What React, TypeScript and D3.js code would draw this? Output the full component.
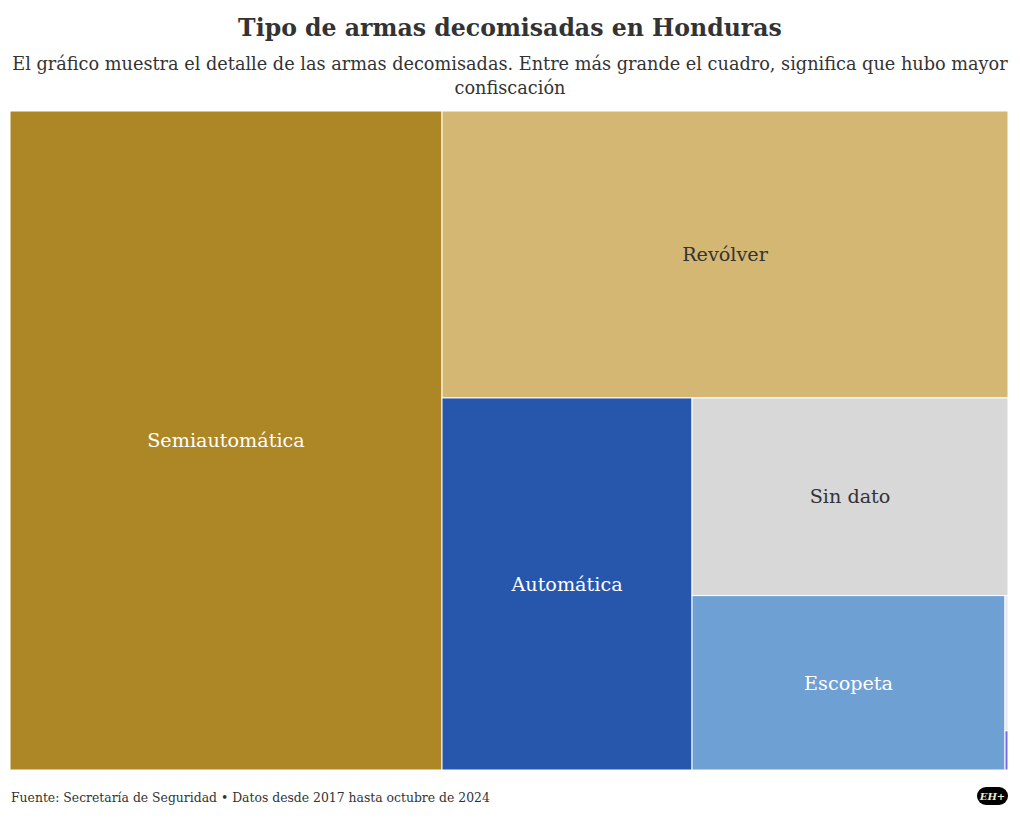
import React from "react";
import * as d3 from "d3";

const categories = ["Semiautomática", "Revólver", "Automática", "Sin dato", "Escopeta", "Otra", "Artesanal"];
const values = [43300, 24700, 14150, 9500, 8300, 62, 18];
const colors = ["#ad8626", "#d4b772", "#2756ad", "#d9d8d9", "#6ea0d4", "#e6e6ee", "#7b6ae6"];
const labelColors = ["#ffffff", "#333333", "#ffffff", "#333333", "#ffffff", "#333333", "#ffffff"];
const showLabel = [true, true, true, true, true, false, false];

const W = 1020;
const H = 821;
const FONT = "'DejaVu Serif', serif";

// Each child takes a full strip along the shorter side of the remaining rectangle
function stripTile(parent: any, x0: number, y0: number, x1: number, y1: number) {
  const nodes = parent.children || [];
  let remaining = parent.value || 0;
  for (const n of nodes) {
    const w = x1 - x0;
    const h = y1 - y0;
    const k = remaining > 0 ? (n.value || 0) / remaining : 0;
    if (w >= h) {
      const nx = x0 + w * k;
      n.x0 = x0; n.x1 = nx; n.y0 = y0; n.y1 = y1;
      x0 = nx;
    } else {
      const ny = y0 + h * k;
      n.x0 = x0; n.x1 = x1; n.y0 = y0; n.y1 = ny;
      y0 = ny;
    }
    remaining -= n.value || 0;
  }
}

export default function App() {
  const data = categories.map((name, i) => ({ name, value: values[i], i }));
  const root = d3
    .hierarchy<any>({ children: data })
    .sum((d: any) => d.value ?? 0)
    .sort((a: any, b: any) => (b.value ?? 0) - (a.value ?? 0));
  d3.treemap<any>().tile(stripTile as any).size([998, 659]).round(false)(root);
  const leaves = root.leaves() as any[];

  return (
    <svg width={W} height={H} style={{ position: "absolute", left: 0, top: 0, background: "#fff" }}>
      <text x={510} y={36} textAnchor="middle" fontFamily={FONT} fontWeight="bold" fontSize={23.6} fill="#333">
        Tipo de armas decomisadas en Honduras
      </text>
      <text x={510} y={70} textAnchor="middle" fontFamily={FONT} fontSize={17.7} fill="#333">
        El gráfico muestra el detalle de las armas decomisadas. Entre más grande el cuadro, significa que hubo mayor
      </text>
      <text x={510} y={94} textAnchor="middle" fontFamily={FONT} fontSize={17.7} fill="#333">
        confiscación
      </text>
      <g transform="translate(10,111)">
        {leaves.map((l) => {
          const d = l.data;
          return (
            <g key={d.name}>
              <rect
                x={l.x0}
                y={l.y0}
                width={l.x1 - l.x0}
                height={l.y1 - l.y0}
                fill={colors[d.i]}
                stroke="#ffffff"
                strokeWidth={1}
              />
              {showLabel[d.i] && (
                <text
                  x={(l.x0 + l.x1) / 2}
                  y={(l.y0 + l.y1) / 2}
                  dy="0.35em"
                  textAnchor="middle"
                  fontFamily={FONT}
                  fontSize={19.2}
                  fill={labelColors[d.i]}
                >
                  {d.name}
                </text>
              )}
            </g>
          );
        })}
      </g>
      <text x={11} y={802} fontFamily={FONT} fontSize={12.4} fill="#333">
        Fuente: Secretaría de Seguridad • Datos desde 2017 hasta octubre de 2024
      </text>
      <rect x={977} y={787} width={31} height={18} rx={9} fill="#000" />
      <text x={992.5} y={800} textAnchor="middle" fontFamily={FONT} fontStyle="italic" fontWeight="bold" fontSize={10} fill="#f4ead0">
        EH+
      </text>
    </svg>
  );
}
